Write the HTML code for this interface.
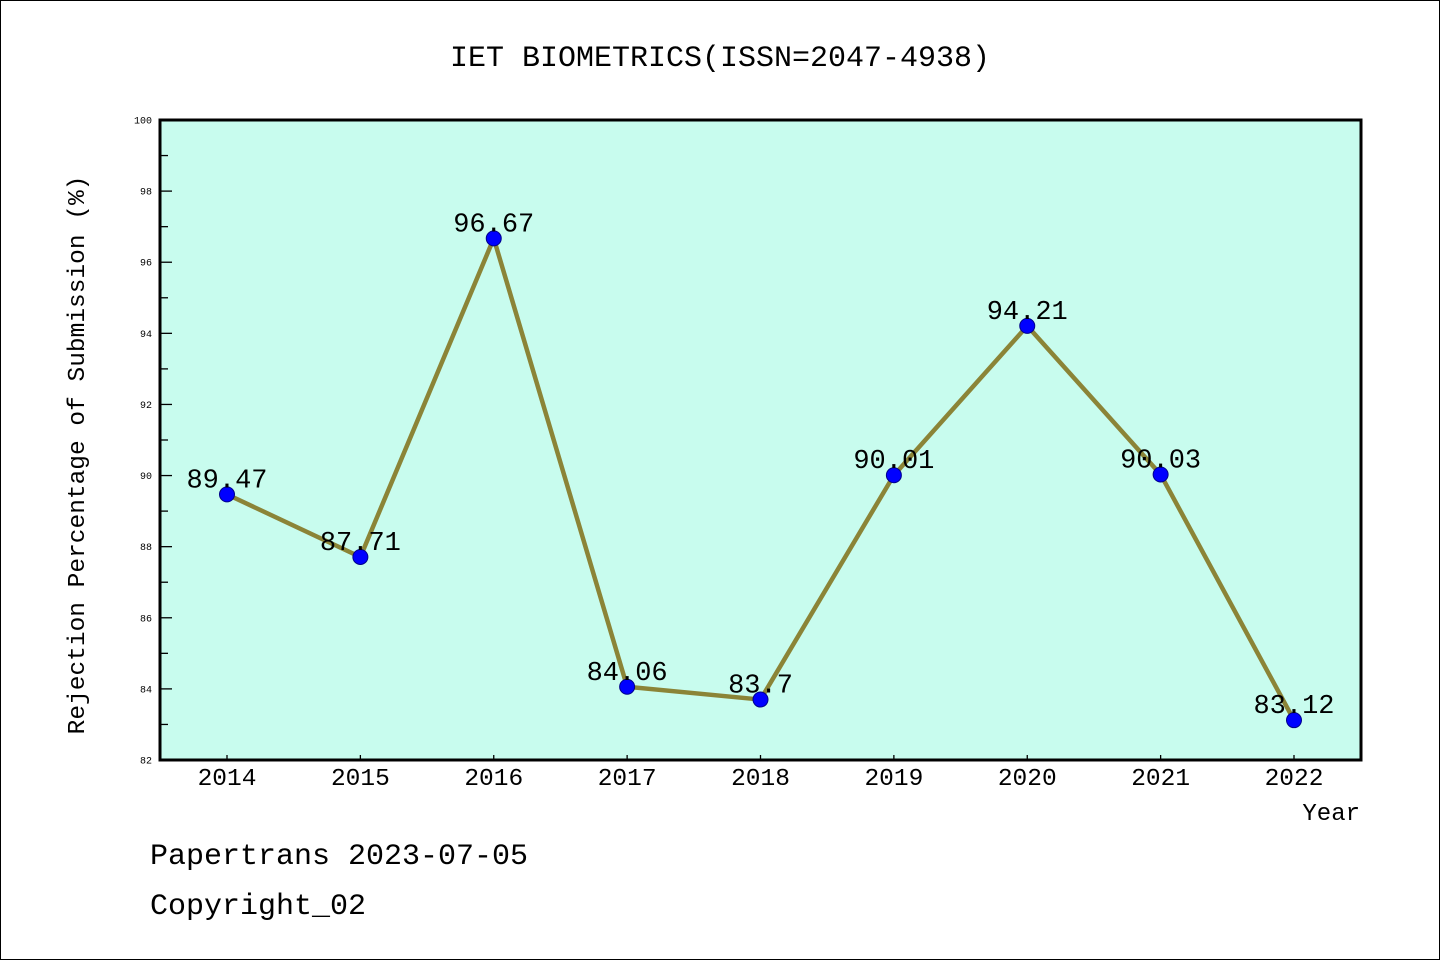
<!DOCTYPE html>
<html><head><meta charset="utf-8"><style>
body{margin:0;background:#fff}
svg{display:block}
text{font-family:"Liberation Mono","WenQuanYi Zen Hei",monospace}
</style></head><body>
<svg id="c" width="1440" height="960" xmlns="http://www.w3.org/2000/svg">
<rect x="0.5" y="0.5" width="1439" height="959" fill="#fff" stroke="#000"/>
<text x="720" y="66" font-size="30" text-anchor="middle">IET BIOMETRICS(ISSN=2047-4938)</text>
<rect x="160" y="120" width="1201" height="640" fill="#c8fcee"/>
<g id="ax"></g>
<rect x="160" y="120" width="1201" height="640" fill="none" stroke="#000" stroke-width="3"/>
<text transform="translate(84,455) rotate(-90)" font-size="24.5" text-anchor="middle">Rejection Percentage of Submission (%)</text>
<text x="1360" y="820" font-size="24" text-anchor="end">Year</text>
<text x="150" y="864" font-size="30">Papertrans 2023-07-05</text>
<text x="150" y="914" font-size="30">Copyright_02</text>
</svg>
<script>
const years=["2014","2015","2016","2017","2018","2019","2020","2021","2022"];
const values=[89.47,87.71,96.67,84.06,83.7,90.01,94.21,90.03,83.12];
const labels=["89.47","87.71","96.67","84.06","83.7","90.01","94.21","90.03","83.12"];
const yTicks=[82,84,86,88,90,92,94,96,98,100];
const yMin=82,yMax=100;
const NS="http://www.w3.org/2000/svg";
const g=document.getElementById('ax');
function X(i){return 227+i*(1294-227)/(years.length-1);}
function Y(v){return 760-(v-yMin)/(yMax-yMin)*640;}
function mk(t,a,p){const e=document.createElementNS(NS,t);for(const k in a)e.setAttribute(k,a[k]);(p||g).appendChild(e);return e;}
for(let v=yMin;v<=yMax;v++){
  const major=yTicks.includes(v);
  const l=mk('line',{x1:160,x2:160+(major?12:8),y1:Y(v),y2:Y(v),stroke:'#000','stroke-width':1.3});
  
  
  if(major){const t=mk('text',{x:152,y:Y(v)+3.5,'font-size':10,'text-anchor':'end'});t.textContent=v;
  
  }
}
years.forEach((yr,i)=>{
  const l=mk('line',{x1:X(i),x2:X(i),y1:760,y2:755,stroke:'#000','stroke-width':1.3});
  
  
  const t=mk('text',{x:X(i),y:785,'font-size':24.5,'text-anchor':'middle'});t.textContent=yr;
  
  
});
const pl=mk('polyline',{points:values.map((v,i)=>X(i)+','+Y(v)).join(' '),fill:'none',stroke:'#8b8437','stroke-width':4.5,'stroke-linejoin':'round'});


values.forEach((v,i)=>{
  const c=mk('circle',{cx:X(i),cy:Y(v),r:7.5,fill:'#0000ff',stroke:'#00008b','stroke-width':1});
  
  
  const t=mk('text',{x:X(i),y:Y(v)-7,'font-size':27,'text-anchor':'middle'});t.textContent=labels[i];
  
  
});
</script>
</body></html>
